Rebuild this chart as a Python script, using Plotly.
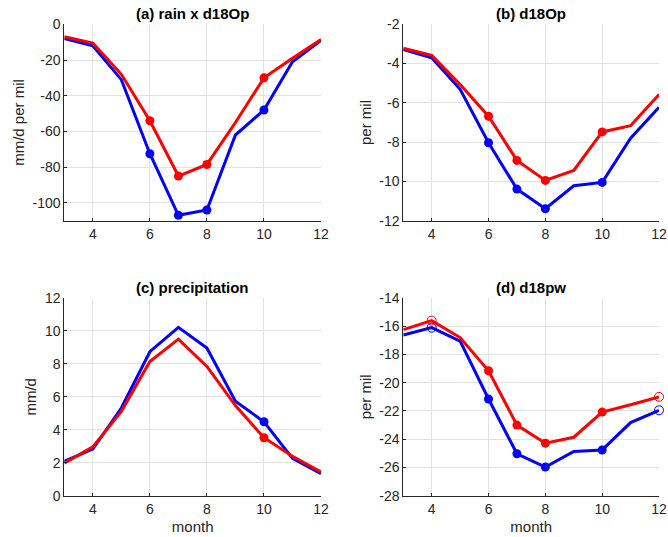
import plotly.graph_objects as go

months = [3, 4, 5, 6, 7, 8, 9, 10, 11, 12]

# (a) rain x d18Op  (mm/d per mil)
a_red = [-7, -10.5, -28, -54, -85, -78.5, -55, -30, -19, -8.5]
a_blue = [-8, -12, -31, -72.5, -107, -104, -62, -48, -21, -9]
a_marked = [6, 7, 8, 10]

# (b) d18Op (per mil)
b_red = [-3.22, -3.58, -5.06, -6.68, -8.93, -9.95, -9.44, -7.48, -7.16, -5.58]
b_blue = [-3.29, -3.7, -5.31, -8.03, -10.39, -11.39, -10.22, -10.05, -7.8, -6.23]
b_marked = [6, 7, 8, 10]

# (c) precipitation (mm/d)
c_red = [1.98, 2.96, 5.12, 8.14, 9.5, 7.85, 5.47, 3.52, 2.39, 1.44]
c_blue = [2.09, 2.83, 5.32, 8.74, 10.22, 8.96, 5.74, 4.49, 2.27, 1.34]
c_marked = [10]

# (d) d18pw (per mil)
d_red = [-16.24, -15.6, -16.8, -19.15, -23.0, -24.28, -23.86, -22.08, -21.56, -21.0]
d_blue = [-16.62, -16.1, -17.05, -21.15, -25.03, -25.97, -24.87, -24.76, -22.82, -21.95]
d_marked = [6, 7, 8, 10]
d_open = [4, 12]

x_ticks = [4, 6, 8, 10, 12]
a_yticks = [0, -20, -40, -60, -80, -100]
b_yticks = [-2, -4, -6, -8, -10, -12]
c_yticks = [0, 2, 4, 6, 8, 10, 12]
d_yticks = [-14, -16, -18, -20, -22, -24, -26, -28]

titles = ["(a) rain x d18Op", "(b) d18Op", "(c) precipitation", "(d) d18pw"]
ylabels = ["mm/d per mil", "per mil", "mm/d", "per mil"]
xlabel = "month"

RED = "#ff0000"
BLUE = "#0000ff"
AX = "#262626"
GRID = "#e3e3e3"
FONT = "Liberation Sans, Arial, Helvetica, sans-serif"

W, H = 668, 537
def xd(l, r):
    return [l / W, r / W]
def yd(t, b):
    return [(H - b) / H, (H - t) / H]

panels = [
    dict(red=a_red, blue=a_blue, marked=a_marked, open=[], yt=a_yticks, yr=[-110, 0],
         xdom=xd(64.3, 321), ydom=yd(24.3, 220.7)),
    dict(red=b_red, blue=b_blue, marked=b_marked, open=[], yt=b_yticks, yr=[-12, -2],
         xdom=xd(403.3, 659), ydom=yd(24.3, 220.7)),
    dict(red=c_red, blue=c_blue, marked=c_marked, open=[], yt=c_yticks, yr=[0, 12],
         xdom=xd(64.3, 321), ydom=yd(298, 495.7)),
    dict(red=d_red, blue=d_blue, marked=d_marked, open=d_open, yt=d_yticks, yr=[-28, -14],
         xdom=xd(403.3, 659), ydom=yd(298, 495.7)),
]

fig = go.Figure()
layout = dict(
    width=W, height=H, margin=dict(l=0, r=0, t=0, b=0),
    paper_bgcolor="white", plot_bgcolor="white", showlegend=False,
    font=dict(family=FONT, size=13, color=AX),
)
annotations = []

for i, p in enumerate(panels):
    n = "" if i == 0 else str(i + 1)
    xa, ya = "x" + n, "y" + n
    for vals, col in [(p["blue"], BLUE), (p["red"], RED)]:
        fig.add_trace(go.Scatter(x=months, y=vals, mode="lines", xaxis=xa, yaxis=ya,
                                 line=dict(color=col, width=3), hoverinfo="skip"))
        mx = [m for m in months if m in p["marked"]]
        my = [v for m, v in zip(months, vals) if m in p["marked"]]
        if mx:
            fig.add_trace(go.Scatter(x=mx, y=my, mode="markers", xaxis=xa, yaxis=ya,
                                     marker=dict(color=col, size=9, symbol="circle"),
                                     cliponaxis=False))
        ox = [m for m in months if m in p["open"]]
        oy = [v for m, v in zip(months, vals) if m in p["open"]]
        if ox:
            fig.add_trace(go.Scatter(x=ox, y=oy, mode="markers", xaxis=xa, yaxis=ya,
                                     marker=dict(color=col, size=9, symbol="circle-open",
                                                 line=dict(color=col, width=1)),
                                     cliponaxis=False))
    bottom = i >= 2
    layout["xaxis" + n] = dict(
        domain=p["xdom"], anchor=ya, range=[3, 12],
        tickvals=x_ticks, ticktext=[str(t) for t in x_ticks],
        ticks="inside", ticklen=3, tickcolor=AX, showline=True, linecolor=AX, linewidth=1,
        showgrid=True, gridcolor=GRID, gridwidth=1, zeroline=False,
        tickfont=dict(size=14, color=AX), mirror=False, automargin=False,
        ticklabelstandoff=0,
        title=dict(text=xlabel if bottom else "", font=dict(size=15, color=AX), standoff=5),
    )
    layout["yaxis" + n] = dict(
        domain=p["ydom"], anchor=xa, range=p["yr"],
        tickvals=p["yt"], ticktext=[str(t) for t in p["yt"]],
        ticks="inside", ticklen=3, tickcolor=AX, showline=True, linecolor=AX, linewidth=1,
        showgrid=True, gridcolor=GRID, gridwidth=1, zeroline=False,
        tickfont=dict(size=14, color=AX), automargin=False,
        ticklabelstandoff=0,
        title=dict(text=ylabels[i], font=dict(size=15, color=AX), standoff=4),
    )
    annotations.append(dict(
        text="<b>" + titles[i] + "</b>", xref="paper", yref="paper",
        x=(p["xdom"][0] + p["xdom"][1]) / 2, y=p["ydom"][1], yanchor="bottom",
        xanchor="center", showarrow=False, yshift=0,
        font=dict(size=15, color="black", family=FONT),
    ))

layout["annotations"] = annotations
fig.update_layout(**layout)
fig.write_html("out.html", config={"displayModeBar": False},
               post_script="document.body.style.margin='0';")
